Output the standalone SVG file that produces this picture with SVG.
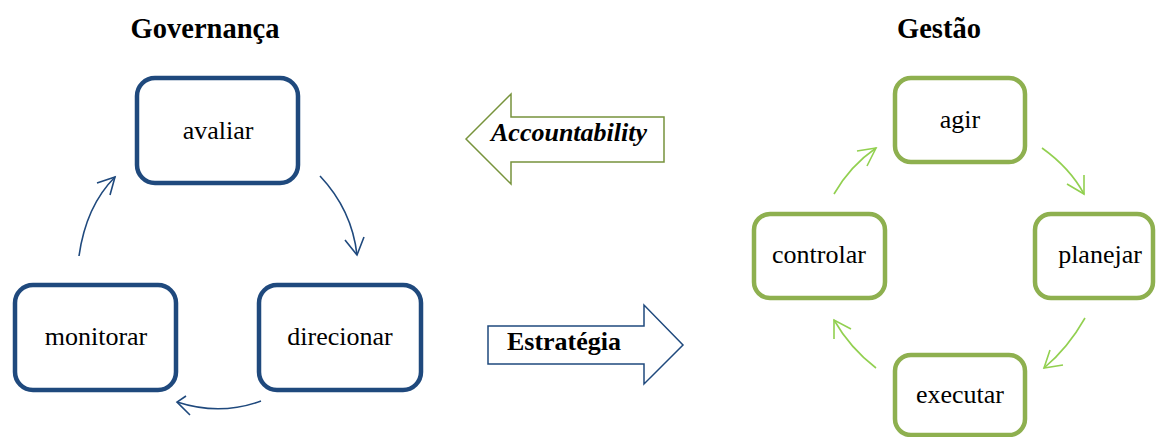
<svg xmlns="http://www.w3.org/2000/svg" width="1157" height="437" viewBox="0 0 1157 437">
<defs>
<style>
.t{font-family:"Liberation Serif","Times New Roman",serif;font-size:26px;fill:#000;text-anchor:middle}
.h{font-family:"Liberation Serif","Times New Roman",serif;font-size:28.5px;font-weight:bold;fill:#000;text-anchor:middle}
.bb{fill:#fff;stroke:#1F497D;stroke-width:4.5}
.gb{fill:#fff;stroke:#8EB04F;stroke-width:4.5}
.bc{fill:none;stroke:#1F497D;stroke-width:1.6}
.gc{fill:none;stroke:#92D050;stroke-width:1.6}
</style>
</defs>
<rect width="1157" height="437" fill="#fff"/>
<text class="h" x="205" y="38">Governança</text>
<text class="h" x="939" y="38">Gestão</text>

<g id="avaliar"><rect class="bb" x="137" y="78" width="161" height="105" rx="18"/><text class="t" x="218" y="139">avaliar</text></g>
<g id="direcionar"><rect class="bb" x="259" y="285" width="162" height="105" rx="18"/><text class="t" x="340" y="345">direcionar</text></g>
<g id="monitorar"><rect class="bb" x="15" y="285" width="161" height="105" rx="18"/><text class="t" x="96" y="345">monitorar</text></g>

<g id="agir"><rect class="gb" x="895" y="78" width="130" height="84" rx="16"/><text class="t" x="960" y="128">agir</text></g>
<g id="planejar"><rect class="gb" x="1035" y="214" width="118" height="84" rx="16"/><text class="t" x="1100" y="263">planejar</text></g>
<g id="executar"><rect class="gb" x="895" y="355" width="130" height="80" rx="16"/><text class="t" x="960" y="403">executar</text></g>
<g id="controlar"><rect class="gb" x="754" y="214" width="131" height="84" rx="16"/><text class="t" x="819" y="263">controlar</text></g>

<g id="accountability">
<polygon points="466,139 511,94 511,117 664,117 664,162 511,162 511,184" fill="#fff" stroke="#77933C" stroke-width="1.5"/>
<text x="569" y="141" style="font-family:'Liberation Serif','Times New Roman',serif;font-size:26px;font-weight:bold;font-style:italic;text-anchor:middle">Accountability</text>
</g>
<g id="estrategia">
<polygon points="488,326 644,326 644,305 683,345 644,384 644,364 488,364" fill="#fff" stroke="#1F497D" stroke-width="1.5"/>
<text x="564" y="350" style="font-family:'Liberation Serif','Times New Roman',serif;font-size:26px;font-weight:bold;text-anchor:middle">Estratégia</text>
</g>

<g id="connectors">
<path class="bc" d="M320,176 Q352,210 357,255"/>
<path class="bc" d="M345,240 L357,255 L364,237"/>
<path class="bc" d="M261,401 Q220,416 177,402"/>
<path class="bc" d="M186,396 L177,402 L190,415"/>
<path class="bc" d="M79,256 Q86,206 115,177"/>
<path class="bc" d="M97,183 L115,177 L110,195"/>

<path class="gc" d="M1042,148 Q1070,168 1084,194"/>
<path class="gc" d="M1067,184 L1084,194 L1084,175"/>
<path class="gc" d="M1085,318 Q1068,348 1044,368"/>
<path class="gc" d="M1050,350 L1044,368 L1063,365"/>
<path class="gc" d="M876,368 Q850,348 834,320"/>
<path class="gc" d="M834,339 L834,320 L851,329"/>
<path class="gc" d="M834,194 Q850,166 876,148"/>
<path class="gc" d="M857,151 L876,148 L867,166"/>
</g>
</svg>
